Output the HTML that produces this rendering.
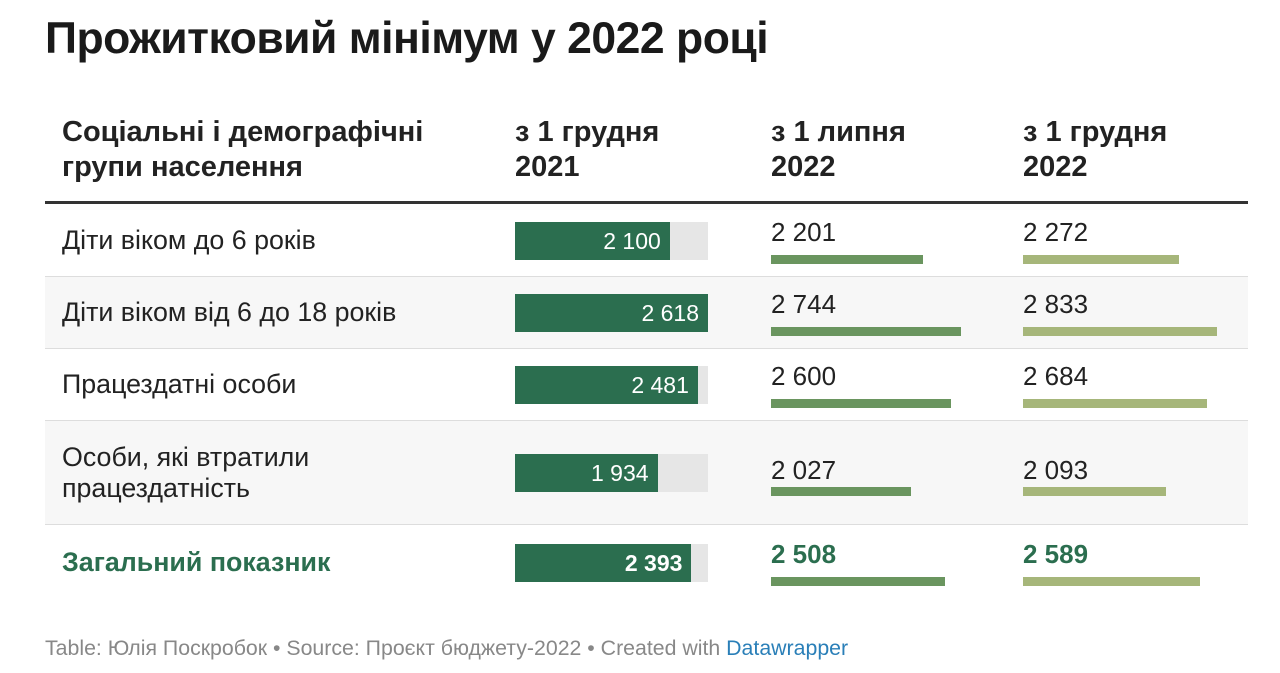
<!DOCTYPE html>
<html><head><meta charset="utf-8"><style>
body{margin:0;width:1280px;height:673px;background:#fff;font-family:"Liberation Sans",sans-serif;color:#222;position:relative;overflow:hidden}
.a{position:absolute}
.t{font-size:44.5px;font-weight:bold;left:45px;top:14px;color:#1a1a1a;letter-spacing:-0.5px}
.h{font-size:29px;font-weight:bold;line-height:35px;top:115px;color:#222}
.row{position:absolute;left:45px;width:1203px;border-bottom:1px solid #ddd}
.lab{position:absolute;left:62px;font-size:26.8px;line-height:31px;color:#222}
.num{position:absolute;font-size:26px;color:#222}
.bg{position:absolute;left:515px;width:193px;height:38px;background:#e6e6e6}
.b1{position:absolute;left:515px;height:38px;background:#2b6e4f;color:#fff;font-size:23px;text-align:right;box-sizing:border-box;padding-right:9px;line-height:38px}
.b2{position:absolute;left:771px;height:9px;background:#6a955f}
.b3{position:absolute;left:1023px;height:9px;background:#a6b67a}
</style></head><body>
<div class="a t">Прожитковий мінімум у 2022 році</div>
<div class="a h" style="left:62px">Соціальні і демографічні<br>групи населення</div>
<div class="a h" style="left:515px">з 1 грудня<br>2021</div>
<div class="a h" style="left:771px">з 1 липня<br>2022</div>
<div class="a h" style="left:1023px">з 1 грудня<br>2022</div>
<div class="a" style="left:45px;top:201px;width:1203px;height:3px;background:#333"></div>
<div id="tbl"></div>
<div class="a" style="left:45px;top:636px;font-size:21.3px;color:#888">Table: Юлія Поскробок • Source: Проєкт бюджету-2022 • Created with <span style="color:#2a7fb8">Datawrapper</span></div>
<script>
const labels=["Діти віком до 6 років","Діти віком від 6 до 18 років","Працездатні особи","Особи, які втратили<br>працездатність","Загальний показник"];
const col1=[2100,2618,2481,1934,2393];
const col2=[2201,2744,2600,2027,2508];
const col3=[2272,2833,2684,2093,2589];
const tops=[204,277,349,421,525], hs=[73,72,72,104,75];
const fmt=v=>String(v).replace(/\B(?=(\d{3})+(?!\d))/g,' ');
const m1=Math.max(...col1),m2=Math.max(...col2),m3=Math.max(...col3);
const T=document.getElementById('tbl');
labels.forEach((l,i)=>{
  const top=tops[i],h=hs[i],last=i===4;
  const r=document.createElement('div');r.className='row';
  
  
  r.style.top=top+'px';r.style.height=(h-1)+'px';
  if(i%2===1)r.style.background='#f7f7f7';
  if(last)r.style.borderBottom='none';
  T.appendChild(r);
  const cy=top+h/2;
  const lb=document.createElement('div');lb.className='lab';
  
  
  lb.innerHTML=l;lb.style.top=(cy-(i===3?31:16))+'px';
  if(last){lb.style.fontWeight='bold';lb.style.color='#2b6e4f';}
  T.appendChild(lb);
  const bg=document.createElement('div');bg.className='bg';
  
  
  bg.style.top=(cy-19)+'px';T.appendChild(bg);
  const b=document.createElement('div');b.className='b1';
  
  
  b.style.top=(cy-19)+'px';b.style.width=(col1[i]/m1*193)+'px';b.textContent=fmt(col1[i]);
  if(last)b.style.fontWeight='bold';
  T.appendChild(b);
  [[col2,m2,771,190,'b2','jul-2022'],[col3,m3,1023,194,'b3','dec-2022']].forEach(([c,m,x,W,cl,nm])=>{
    const n=document.createElement('div');n.className='num';
    
    
    n.style.left=x+'px';n.style.top=(cy-(i===3?18:24))+'px';n.textContent=fmt(c[i]);
    if(last){n.style.fontWeight='bold';n.style.color='#2b6e4f';}
    T.appendChild(n);
    const bb=document.createElement('div');bb.className=cl;
    
    
    bb.style.top=(cy+14)+'px';bb.style.width=(c[i]/m*W)+'px';
    T.appendChild(bb);
  });
});
</script>
</body></html>
